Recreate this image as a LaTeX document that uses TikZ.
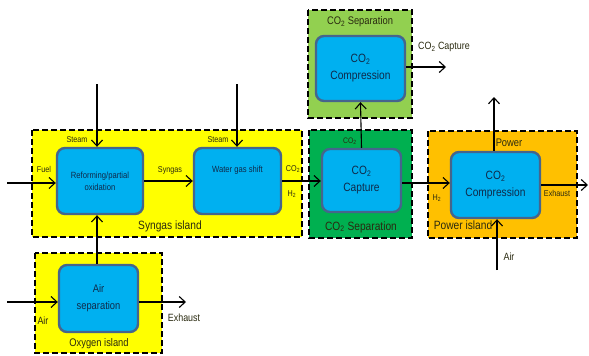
\documentclass[tikz,border=0pt]{standalone}
\usepackage{fontspec}
\setmainfont{Liberation Sans}[FakeStretch=0.85]
\usetikzlibrary{arrows.meta}
\definecolor{isyellow}{HTML}{FFFF00}
\definecolor{isgreen}{HTML}{00B050}
\definecolor{islgreen}{HTML}{92D050}
\definecolor{isorange}{HTML}{FFC000}
\definecolor{blkfill}{HTML}{00B0F0}
\definecolor{blkdraw}{HTML}{46658C}
\definecolor{blktext}{HTML}{0F2A4A}
\definecolor{lbltext}{HTML}{2A2A10}
\tikzset{
  island/.style={draw=black, line width=2.7pt, dash pattern=on 6pt off 3pt},
  blk/.style={draw=blkdraw, fill=blkfill, line width=2.4pt, rounded corners=8pt, align=center, text=blktext, inner sep=1pt},
  flow/.style={draw=black, line width=1.1pt, -{Straight Barb[length=6pt,width=11pt,line width=1.1pt]}},
  lbl/.style={text=lbltext, inner sep=0pt},
}
\begin{document}
\begin{tikzpicture}[x=1pt,y=-1pt]
\useasboundingbox (0,0) rectangle (589,356);
% islands
\fill[isyellow] (32,130) rectangle (302,237);
\draw[island] (32,130) rectangle (302,237);
\fill[isgreen] (309,130) rectangle (412,238);
\draw[island] (309,130) rectangle (412,238);
\fill[isorange] (428,131) rectangle (577,238);
\draw[island] (428,131) rectangle (577,238);
\fill[islgreen] (308,10) rectangle (412,118);
\draw[island] (308,10) rectangle (412,118);
\fill[isyellow] (35,253) rectangle (162,353);
\draw[island] (35,253) rectangle (162,353);

% island labels
\node[lbl, font=\fontsize{12}{12}\selectfont] (lsyn) at (170,226) {Syngas island};
\node[lbl, font=\fontsize{12}{12}\selectfont] (lsep) at (361,227) {CO\textsubscript{2} Separation};
\node[lbl, font=\fontsize{11}{11}\selectfont] (lsept) at (360,22) {CO\textsubscript{2} Separation};
\node[lbl, font=\fontsize{12}{12}\selectfont] (lpow) at (463,225) {Power island};
\node[lbl, font=\fontsize{11}{11}\selectfont] (loxy) at (99,344) {Oxygen island};

% blocks
\node[blk, minimum width=86pt, minimum height=66pt, font=\fontsize{9}{12}\selectfont] (ref) at (100,181) {Reforming/partial\\oxidation};
\node[blk, minimum width=87pt, minimum height=66pt, font=\fontsize{9}{12}\selectfont] (wgs) at (237.5,181) {Water gas shift\\[12pt]};
\node[blk, minimum width=79pt, minimum height=63pt, font=\fontsize{12}{17}\selectfont] (cap) at (361.5,180.5) {CO\textsubscript{2}\\Capture};
\node[blk, minimum width=89pt, minimum height=66pt, font=\fontsize{12}{17}\selectfont] (pcomp) at (495.5,185) {CO\textsubscript{2}\\Compression};
\node[blk, minimum width=89pt, minimum height=65pt, font=\fontsize{12}{17}\selectfont] (tcomp) at (360.5,68.5) {CO\textsubscript{2}\\Compression};
\node[blk, minimum width=79pt, minimum height=67pt, font=\fontsize{11}{17}\selectfont] (asep) at (98.5,298.5) {Air\\separation};

% coordinates
\coordinate (fuelin) at (7,183);
\coordinate (steam1) at (97,84);
\coordinate (steam2) at (237,84);
\coordinate (co2out) at (446,67);
\coordinate (powout) at (494,97);
\coordinate (airin2) at (497,270);
\coordinate (exh2) at (588,185);
\coordinate (airin1) at (7,302);
\coordinate (exh1) at (186,302);

% connectors
\draw[flow] (fuelin) -- (fuelin -| ref.west);
\draw[flow] (steam1) -- (steam1 |- ref.north);
\draw[flow] (steam2) -- (steam2 |- wgs.north);
\draw[flow] (ref.east |- 0,181) -- (wgs.west |- 0,181);
\draw[flow] (wgs.east |- 0,181) -- (cap.west |- 0,181);
\draw[flow] (cap.east |- 0,183) -- (pcomp.west |- 0,183);
\draw[flow] (cap.north) -- (tcomp.south);
\draw[flow] (tcomp.east |- co2out) -- (co2out);
\draw[flow] (pcomp.north -| powout) -- (powout);
\draw[flow] (airin2) -- (airin2 |- pcomp.south);
\draw[flow] (pcomp.east |- exh2) -- (exh2);
\draw[flow] (asep.north -| steam1) -- (ref.south -| steam1);
\draw[flow] (airin1) -- (airin1 -| asep.west);
\draw[flow] (asep.east |- exh1) -- (exh1);

% connector labels
\node[lbl, font=\fontsize{8.5}{9}\selectfont] (lfuel) at (44,169) {Fuel};
\node[lbl, font=\fontsize{8.5}{9}\selectfont] (lst1) at (77,140) {Steam};
\node[lbl, font=\fontsize{8.5}{9}\selectfont] (lst2) at (218,140) {Steam};
\node[lbl, font=\fontsize{8.5}{9}\selectfont] (lsyng) at (170,170) {Syngas};
\node[lbl, font=\fontsize{8.5}{9}\selectfont] (lco2a) at (293,169) {CO\textsubscript{2}};
\node[lbl, font=\fontsize{8.5}{9}\selectfont] (lh2a) at (292,194) {H\textsubscript{2}};
\node[lbl, font=\fontsize{8}{8}\selectfont] (lco2b) at (350,141) {CO\textsubscript{2}};
\node[lbl, font=\fontsize{8.5}{9}\selectfont] (lh2b) at (437,198) {H\textsubscript{2}};
\node[lbl, font=\fontsize{10.5}{11}\selectfont, anchor=west] (lcapt) at (418,47) {CO\textsubscript{2} Capture};
\node[lbl, font=\fontsize{11}{11}\selectfont] (lpower) at (509,143) {Power};
\node[lbl, font=\fontsize{8.5}{9}\selectfont] (lexh2) at (557,193) {Exhaust};
\node[lbl, font=\fontsize{10.5}{11}\selectfont] (lair2) at (509,257) {Air};
\node[lbl, font=\fontsize{10.5}{11}\selectfont] (lair1) at (43,321) {Air};
\node[lbl, font=\fontsize{10.5}{11}\selectfont] (lexh1) at (184,318) {Exhaust};
\end{tikzpicture}
\end{document}
